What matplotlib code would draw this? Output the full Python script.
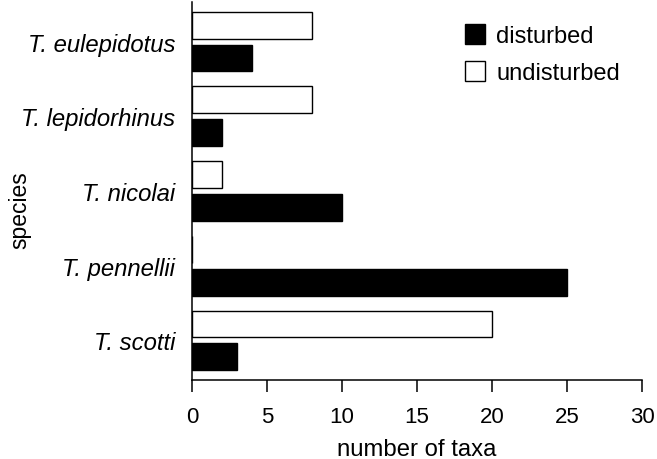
import numpy as np
import matplotlib
matplotlib.use("Agg")
import matplotlib.pyplot as plt

plt.rcParams["font.family"] = ["Liberation Sans", "DejaVu Sans"]

# Data
species = ["T. eulepidotus", "T. lepidorhinus", "T. nicolai", "T. pennellii", "T. scotti"]
disturbed = [4, 2, 10, 25, 3]
undisturbed = [8, 8, 2, 0, 20]
x_ticks = [0, 5, 10, 15, 20, 25, 30]

BAR_H = 0.36
OFFSET = 0.22

fig = plt.figure(figsize=(6.57, 4.6), dpi=100)
ax = fig.add_axes([0.2922, 0.1717, 0.685, 0.8218])

y = np.arange(len(species))
ax.barh(y - OFFSET, undisturbed, height=BAR_H, color="white",
        edgecolor="black", linewidth=1.0, label="undisturbed")
ax.barh(y + OFFSET, disturbed, height=BAR_H, color="black",
        edgecolor="black", linewidth=1.0, label="disturbed")

ax.set_ylim(len(species) - 0.47, -0.53)
ax.set_xlim(0, 30)
ax.set_xticks(x_ticks)
ax.set_yticks(y)
ax.set_yticklabels(species, fontstyle="italic", fontsize=17.2)
ax.tick_params(axis="y", length=0, pad=12.2)
ax.tick_params(axis="x", direction="out", length=8.6, width=1.1,
               labelsize=16, pad=10)

for side in ("top", "right"):
    ax.spines[side].set_visible(False)
for side in ("left", "bottom"):
    ax.spines[side].set_linewidth(1.1)

ax.set_xlabel("number of taxa", fontsize=17.2, labelpad=8)
fig.text(20 / 657, 1 - 210 / 460, "species", fontsize=16.5,
         rotation=90, ha="center", va="center")

handles, labels = ax.get_legend_handles_labels()
ax.legend(handles[::-1], labels[::-1], loc="upper left",
          bbox_to_anchor=(465 / 657, 1 - 25 / 460),
          bbox_transform=fig.transFigure, frameon=False, fontsize=17,
          handlelength=0.85, handleheight=0.93, handletextpad=0.47,
          labelspacing=0.6, borderaxespad=0, borderpad=0)

fig.savefig("out.png", dpi=100)
